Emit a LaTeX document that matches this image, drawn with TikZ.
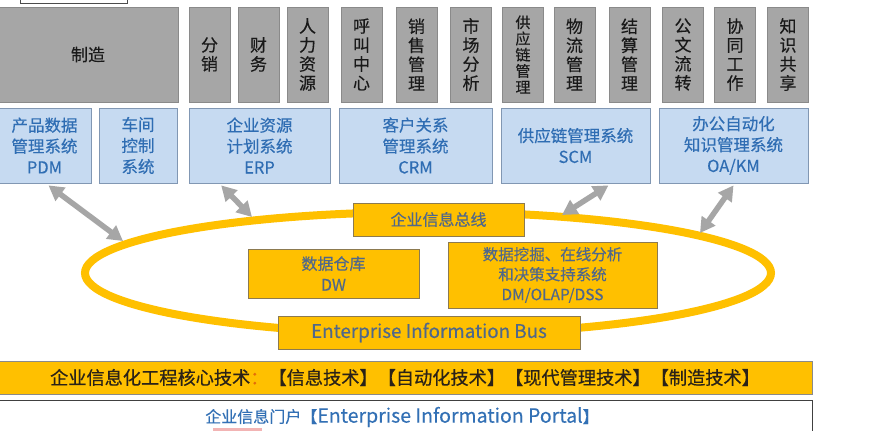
\documentclass[tikz,border=0pt]{standalone}
\usepackage{fontspec}
\setmainfont{Noto Sans CJK SC}
\newfontfamily\barfont[FakeBold=0.6]{Noto Sans CJK SC}
\newfontfamily\semifont[FakeBold=0.3]{Noto Sans CJK SC}
\usetikzlibrary{arrows.meta,calc}
\definecolor{grayfill}{HTML}{A6A6A6}
\definecolor{grayline}{HTML}{8A8A8A}
\definecolor{bluefill}{HTML}{C6DAF1}
\definecolor{blueline}{HTML}{8197B3}
\definecolor{bluetext}{HTML}{2F6DB3}
\definecolor{gold}{HTML}{FFC000}
\definecolor{goldline}{HTML}{8C7A50}
\definecolor{goldtext}{HTML}{50688A}
\definecolor{arrowgray}{HTML}{A6A6A6}
\definecolor{bartext}{HTML}{2A2218}
\definecolor{colon}{HTML}{E46C0A}
\definecolor{portaltext}{HTML}{3270B5}
\definecolor{pinkbit}{HTML}{F2B4B4}
\tikzset{
  graybox/.style={draw=grayline, line width=0.8pt, fill=grayfill, text=black!90, align=center, minimum height=95pt, inner sep=0pt, font=\semifont\fontsize{17}{19}\selectfont},
  bluebox/.style={draw=blueline, line width=0.8pt, fill=bluefill, text=bluetext, align=center, minimum height=75pt, inner sep=0pt, font=\semifont\fontsize{16.5}{21}\selectfont},
  goldbox/.style={draw=goldline, line width=0.8pt, fill=gold, text=goldtext, align=center, inner sep=0pt, font=\semifont\fontsize{16}{21}\selectfont},
  duplex/.style={arrowgray, line width=5.5pt, {Triangle[length=15pt,width=16pt]}-{Triangle[length=15pt,width=16pt]}},
}
\begin{document}
\begin{tikzpicture}[x=1pt,y=-1pt]
\useasboundingbox (0,0) rectangle (892,431);
\fill[white] (0,0) rectangle (892,431);
% partial box at top
\draw[draw=black!70, line width=0.8pt, fill=white] (20,-6) rectangle (127,3);
% gray boxes
\node[graybox, minimum width=180pt] (zz) at (88,54.5) {制造};
\node[graybox, minimum width=41pt] (fx) at (209.5,54.5) {分\\销};
\node[graybox, minimum width=41pt] (cw) at (258.5,54.5) {财\\务};
\node[graybox, minimum width=41pt] (rl) at (307.5,54.5) {人\\力\\资\\源};
\node[graybox, minimum width=41pt] (hj) at (361.5,54.5) {呼\\叫\\中\\心};
\node[graybox, minimum width=41pt] (xs) at (416.5,54.5) {销\\售\\管\\理};
\node[graybox, minimum width=41pt] (sc) at (471,54.5) {市\\场\\分\\析};
\node[graybox, minimum width=41pt, font=\semifont\fontsize{15}{16.2}\selectfont] (gy) at (523,54.5) {供\\应\\链\\管\\理};
\node[graybox, minimum width=41pt] (wl) at (574.5,54.5) {物\\流\\管\\理};
\node[graybox, minimum width=41pt] (js) at (629.5,54.5) {结\\算\\管\\理};
\node[graybox, minimum width=41pt] (gw) at (683,54.5) {公\\文\\流\\转};
\node[graybox, minimum width=41pt] (xt) at (735,54.5) {协\\同\\工\\作};
\node[graybox, minimum width=41pt] (zs) at (788,54.5) {知\\识\\共\\享};
% blue boxes
\node[bluebox, minimum width=93pt] (pdm) at (44.5,145.5) {产品数据\\管理系统\\PDM};
\node[bluebox, minimum width=78pt] (cj) at (138,145.5) {车间\\控制\\系统};
\node[bluebox, minimum width=141pt] (erp) at (259.5,145.5) {企业资源\\计划系统\\ERP};
\node[bluebox, minimum width=153pt] (crm) at (415.5,145.5) {客户关系\\管理系统\\CRM};
\node[bluebox, minimum width=149pt] (scm) at (575.5,145.5) {供应链管理系统\\SCM};
\node[bluebox, minimum width=149pt] (oa) at (733.5,145.5) {办公自动化\\知识管理系统\\OA/KM};
% bus ellipse
\draw[gold, line width=8pt] (428,273) ellipse [x radius=343, y radius=61];
\coordinate (e1) at (123,241);
\coordinate (e2) at (252,217);
\coordinate (e3) at (562,215);
\coordinate (e4) at (700,233);
% yellow boxes
\node[goldbox, minimum width=171pt, minimum height=33pt] (zx) at (438.5,219.5) {企业信息总线};
\node[goldbox, minimum width=171pt, minimum height=49pt] (dw) at (333.5,273.5) {数据仓库\\DW};
\node[goldbox, minimum width=209pt, minimum height=66pt, font=\semifont\fontsize{15.5}{20}\selectfont] (dss) at (552.5,275) {数据挖掘、在线分析\\和决策支持系统\\DM/OLAP/DSS};
\node[goldbox, minimum width=302pt, minimum height=33pt, font=\semifont\fontsize{18.8}{21}\selectfont] (eib) at (429,332.5) {Enterprise Information Bus};
% arrows
\draw[duplex] ($(pdm.south)+(4,2)$) -- (e1);
\draw[duplex] ($(erp.south west)!0.23!(erp.south east)+(0,2)$) -- (e2);
\draw[duplex] ($(scm.south west)!0.72!(scm.south east)+(0,2)$) -- (e3);
\draw[duplex] ($(oa.south)+(0,2)$) -- (e4);
% core technology bar
\node[draw=grayline, line width=0.8pt, fill=gold, minimum width=814pt, minimum height=33pt, inner sep=0pt, text=bartext, font=\barfont\fontsize{18.2}{20}\selectfont] (core) at (405,377.5) {企业信息化工程核心技术\textcolor{colon}{：}【信息技术】【自动化技术】【现代管理技术】【制造技术】};
% portal
\node[draw=black!75, line width=0.8pt, fill=white, minimum width=814pt, minimum height=40pt, inner sep=0pt] (portal) at (405,420) {};
\node[text=portaltext, font=\semifont\fontsize{16}{19}\selectfont, inner sep=0pt] (ptext) at (402,417) {企业信息门户【{\fontsize{19.5}{19}\selectfont Enterprise Information Portal}】};
\fill[pinkbit] (213,427.5) rectangle (262,433);
\end{tikzpicture}
\end{document}
